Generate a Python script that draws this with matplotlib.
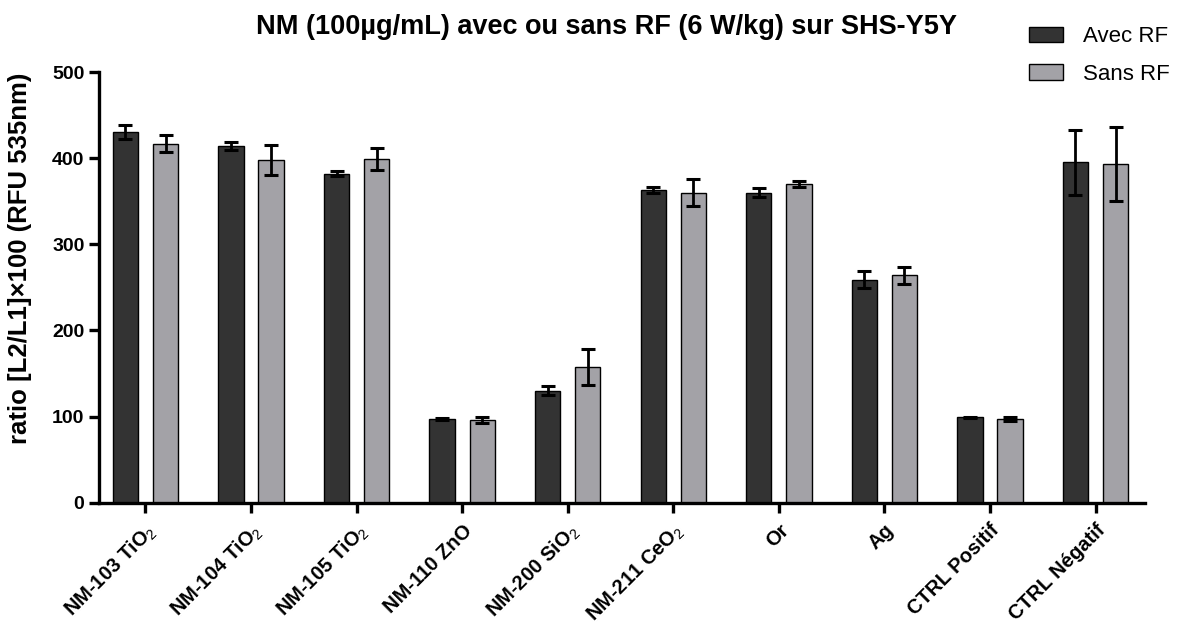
import numpy as np
import matplotlib
matplotlib.use('Agg')
import matplotlib.pyplot as plt
from matplotlib.patches import Patch

plt.rcParams['font.family'] = ['Liberation Sans', 'DejaVu Sans']
plt.rcParams['mathtext.fontset'] = 'custom'
plt.rcParams['mathtext.rm'] = 'Liberation Sans'

categories = [r'NM-103 TiO$\mathrm{_2}$', r'NM-104 TiO$\mathrm{_2}$', r'NM-105 TiO$\mathrm{_2}$',
              'NM-110 ZnO', r'NM-200 SiO$\mathrm{_2}$', r'NM-211 CeO$\mathrm{_2}$',
              'Or', 'Ag', 'CTRL Positif', 'CTRL Négatif']
avec_rf = [430, 414, 382, 97, 130, 363, 360, 259, 99, 395]
avec_err = [8, 4.5, 3, 1, 5.5, 3, 5, 9.5, 1, 38]
sans_rf = [417, 398, 399, 96, 158, 360, 370, 264, 97, 393]
sans_err = [10, 17, 12.5, 3, 21, 16, 3.5, 10, 2, 43]

dark = '#333333'
light = '#a3a2a7'

fig = plt.figure(figsize=(11.82, 6.34), dpi=100)
ax = fig.add_axes([0.0838, 0.2071, 0.885, 0.6793])

x = np.arange(len(categories))
off = 0.19
w = 0.24
err_kw = dict(ecolor='black', elinewidth=2, capsize=5, capthick=2.2)
ax.bar(x - off, avec_rf, w, yerr=avec_err, color=dark, edgecolor='black', linewidth=1, error_kw=err_kw)
ax.bar(x + off, sans_rf, w, yerr=sans_err, color=light, edgecolor='black', linewidth=1, error_kw=err_kw)

ax.set_xlim(-0.44, 9.47)
ax.set_ylim(0, 500)
ax.set_yticks(range(0, 501, 100))
ax.set_xticks(x)
ax.set_xticklabels(categories, rotation=45, ha='right', rotation_mode='anchor',
                   fontsize=14.5, fontweight='bold')
for lab in ax.get_yticklabels():
    lab.set_fontweight('bold')
    lab.set_fontsize(14)

for s in ['top', 'right']:
    ax.spines[s].set_visible(False)
for s in ['left', 'bottom']:
    ax.spines[s].set_linewidth(2.4)
ax.tick_params(axis='both', width=2.4, length=7, direction='out')
ax.tick_params(axis='x', pad=6)

ax.set_ylabel('ratio [L2/L1]×100 (RFU 535nm)', fontsize=18.5, fontweight='bold')
ax.yaxis.set_label_coords(-0.064, 0.568)
fig.suptitle('NM (100µg/mL) avec ou sans RF (6 W/kg) sur SHS-Y5Y', fontsize=19.5,
             fontweight='bold', x=0.513, y=0.978)

handles = [Patch(facecolor=dark, edgecolor='black', linewidth=1),
           Patch(facecolor=light, edgecolor='black', linewidth=1)]
fig.legend(handles, ['Avec RF', 'Sans RF'], loc='upper left', bbox_to_anchor=(0.854, 0.99),
           frameon=False, fontsize=16, handlelength=1.5, handleheight=0.7, labelspacing=0.75,
           handletextpad=0.9)

fig.savefig('out.png', dpi=100)
